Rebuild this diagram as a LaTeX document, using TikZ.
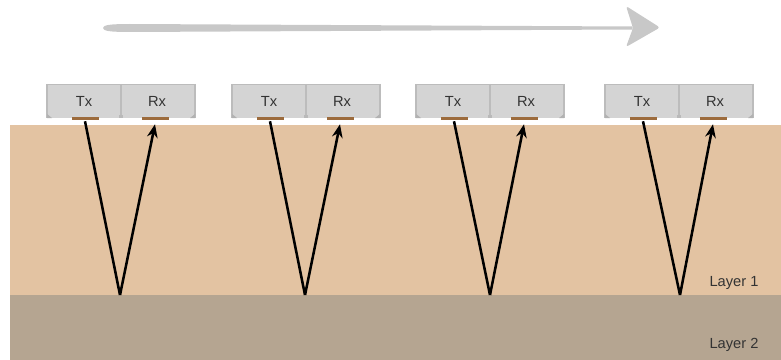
\documentclass[tikz,border=0pt]{standalone}
\usepackage{fontspec}
\setmainfont{Liberation Sans}
\usetikzlibrary{arrows.meta}
\definecolor{layerone}{HTML}{E3C3A2}
\definecolor{layertwo}{HTML}{B5A591}
\definecolor{boxfill}{HTML}{D4D4D4}
\definecolor{boxedge}{HTML}{BCBCBC}
\definecolor{padcol}{HTML}{9C6B3C}
\definecolor{arrowgray}{HTML}{C8C8C8}
\definecolor{txtcol}{HTML}{333333}
\tikzset{
  padbox/.style={fill=padcol, draw=none, inner sep=0pt, minimum width=27*0.75pt, minimum height=3*0.75pt},
  sensorlabel/.style={font=\fontsize{11}{12}\selectfont, text=txtcol},
  layerlabel/.style={font=\fontsize{11}{12}\selectfont, text=txtcol},
  ray/.style={line width=1.9pt, black, line join=miter},
  rayarrow/.style={ray, -{Stealth[length=10pt, width=8pt]}}
}
\begin{document}
\begin{tikzpicture}[x=0.75pt, y=-0.75pt]
\useasboundingbox (0,0) rectangle (781,360);
% layers
\fill[layerone] (10,125) rectangle (781,295);
\fill[layertwo] (10,295) rectangle (781,360);
\node[layerlabel] (l1) at (734,283) {Layer 1};
\node[layerlabel] (l2) at (734,345) {Layer 2};
% motion arrow
\fill[arrowgray] (103,28) .. controls (103,25) and (110,24) .. (130,24) -- (632,26.5) -- (632,29.5) -- (130,32) .. controls (110,32) and (103,31) .. (103,28) -- cycle;
\fill[arrowgray, rounded corners=2pt] (626,6) -- (660,27.5) -- (626,47) -- (633,28) -- cycle;
% sensors
\foreach \i/\x/\b in {1/47/120, 2/232/305, 3/416/490, 4/605/680}{
  \fill[boxfill] (\x,84) rectangle ++(148,34);
  \draw[boxedge, line width=1.2pt] (\x,84.5) -- ++(148,0);
  \draw[boxedge, line width=0.8pt] (\x,84) -- ++(0,34) (\x+148,84) -- ++(0,34);
  \draw[boxedge, line width=0.8pt] (\x+74,84) -- ++(0,34);
  \fill[gray!60] (\x,118) -- ++(5,0) -- ++(-5,-4) -- cycle;
  \fill[gray!60] (\x+148,118) -- ++(-5,0) -- ++(5,-4) -- cycle;
  \fill[gray!55] (\x+72,118) rectangle ++(4,-3);
  \node[sensorlabel] (tx\i) at (\x+37,101) {Tx};
  \node[sensorlabel] (rx\i) at (\x+110,101) {Rx};
  \node[padbox] (tp\i) at (\x+38,118.5) {};
  \node[padbox] (rp\i) at (\x+108,118.5) {};
  \coordinate (b\i) at (\b,295);
  \draw[ray] ([yshift=-0.75pt]tp\i.south) -- (b\i);
  \draw[rayarrow] (b\i) -- ([yshift=-3pt]rp\i.south);
}
\end{tikzpicture}
\end{document}
